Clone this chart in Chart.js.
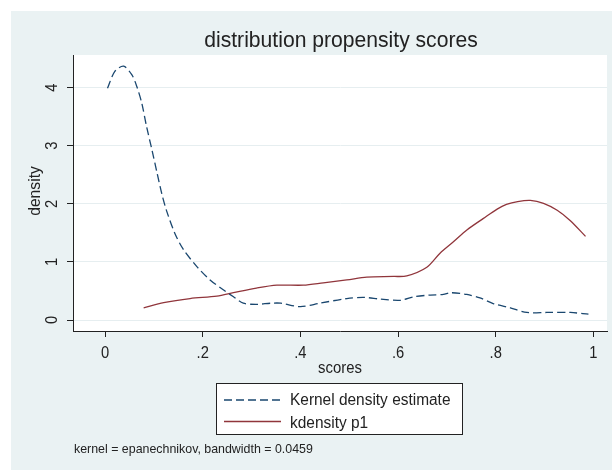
<!DOCTYPE html>
<html>
<head>
<meta charset="utf-8">
<script src="https://cdn.jsdelivr.net/npm/chart.js@4"></script>
<style>
  html, body { margin: 0; padding: 0; background: #ffffff; }
  #wrap { width: 612px; height: 470px; }
</style>
</head>
<body>
<div id="wrap"><canvas id="kdChart" width="612" height="470"></canvas></div>
<script>
const TITLE = "distribution propensity scores";
const X_TITLE = "scores";
const Y_TITLE = "density";
const NOTE = "kernel = epanechnikov, bandwidth = 0.0459";

// series 1: Kernel density estimate (dashed)
const kdeX = [0.005, 0.02, 0.038, 0.055, 0.065, 0.075, 0.085, 0.096, 0.106, 0.116, 0.126, 0.143, 0.16, 0.188,
              0.215, 0.242, 0.263, 0.283, 0.31, 0.34, 0.36, 0.40, 0.44, 0.495, 0.53, 0.564, 0.605, 0.632,
              0.666, 0.693, 0.707, 0.741, 0.768, 0.796, 0.83, 0.864, 0.905, 0.953, 0.99];
const kdeY = [3.99, 4.28, 4.37, 4.22, 4.02, 3.74, 3.33, 2.93, 2.55, 2.18, 1.88, 1.49, 1.22, 0.92,
              0.69, 0.52, 0.40, 0.29, 0.27, 0.29, 0.29, 0.23, 0.29, 0.37, 0.39, 0.36, 0.34, 0.40,
              0.43, 0.44, 0.47, 0.44, 0.38, 0.28, 0.21, 0.13, 0.13, 0.13, 0.10];

// series 2: kdensity p1
const p1X = [0.079, 0.12, 0.174, 0.229, 0.263, 0.31, 0.352, 0.406, 0.447, 0.495, 0.536, 0.591, 0.618,
             0.659, 0.686, 0.714, 0.741, 0.775, 0.803, 0.822, 0.845, 0.871, 0.898, 0.926, 0.953, 0.984];
const p1Y = [0.21, 0.30, 0.37, 0.41, 0.47, 0.55, 0.60, 0.60, 0.64, 0.69, 0.74, 0.75, 0.76,
             0.91, 1.15, 1.35, 1.55, 1.75, 1.91, 1.99, 2.04, 2.06, 2.01, 1.89, 1.71, 1.44];

const X_MIN = -0.0657, X_MAX = 1.028;
const Y_MIN = -0.189, Y_MAX = 4.563;

const BG = '#eaf2f3';
const INK = '#222222';
const FONT = '"Liberation Sans", Arial, sans-serif';

function pts(xs, ys) {
    return xs.map((x, i) => ({ x: x, y: ys[i] }));
}

function stataNum(v) {
    if (v === 0) return '0';
    if (v === 1) return '1';
    return String(+v.toFixed(2)).replace(/^0\./, '.');
}

function txt(c, s, x, y, size, align, sx, rot) {
    c.save();
    c.translate(x, y);
    if (rot) c.rotate(rot);
    c.scale(sx, 1);
    c.font = size + 'px ' + FONT;
    c.fillStyle = INK;
    c.textAlign = align;
    c.textBaseline = 'alphabetic';
    c.fillText(s, 0, 0);
    c.restore();
}

const backdrop = {
    id: 'backdrop',
    beforeDraw(chart) {
        const c = chart.ctx, a = chart.chartArea;
        c.save();
        c.fillStyle = '#ffffff';
        c.fillRect(0, 0, chart.width, chart.height);
        c.fillStyle = BG;
        c.fillRect(11, 11, chart.width - 11, chart.height - 11);
        c.fillStyle = '#ffffff';
        c.fillRect(a.left, a.top, a.right - a.left, a.bottom - a.top);
        c.restore();
    }
};

const stataText = {
    id: 'stataText',
    afterDraw(chart) {
        const c = chart.ctx;
        const xs = chart.scales.x, ys = chart.scales.y;

        txt(c, TITLE, 341, 47, 22, 'center', 0.96);

        xs.ticks.forEach(t => txt(c, stataNum(t.value), xs.getPixelForValue(t.value), 358, 16, 'center', 0.92));
        ys.ticks.forEach(t => txt(c, stataNum(t.value), 57, ys.getPixelForValue(t.value), 16, 'center', 0.92, -Math.PI / 2));

        txt(c, X_TITLE, 340, 373, 16, 'center', 0.93);
        txt(c, Y_TITLE, 39.5, 191, 16, 'center', 0.98, -Math.PI / 2);

        // legend box
        c.save();
        c.fillStyle = '#ffffff';
        c.fillRect(217, 384, 246, 51);
        c.strokeStyle = INK;
        c.lineWidth = 1;
        c.strokeRect(216.5, 383.5, 246, 51);
        const rows = [400, 421.5];
        chart.data.datasets.forEach((ds, i) => {
            c.beginPath();
            c.strokeStyle = ds.borderColor;
            c.lineWidth = ds.borderWidth;
            c.setLineDash(ds.borderDash || []);
            c.moveTo(224, rows[i]);
            c.lineTo(281, rows[i]);
            c.stroke();
        });
        c.restore();
        txt(c, chart.data.datasets[0].label, 290, 405, 16, 'left', 0.965);
        txt(c, chart.data.datasets[1].label, 290, 428, 16, 'left', 0.965);

        txt(c, NOTE, 74, 453, 12.4, 'left', 1);
    }
};

const ctx = document.getElementById('kdChart').getContext('2d');
const kdChart = new Chart(ctx, {
    type: 'line',
    data: {
        datasets: [{
            label: 'Kernel density estimate',
            data: pts(kdeX, kdeY),
            borderColor: '#1a476f',
            borderWidth: 1.3,
            borderDash: [8, 4],
            pointRadius: 0,
            tension: 0.3,
            fill: false
        }, {
            label: 'kdensity p1',
            data: pts(p1X, p1Y),
            borderColor: '#90353b',
            borderWidth: 1.3,
            pointRadius: 0,
            tension: 0.3,
            fill: false
        }]
    },
    options: {
        responsive: false,
        animation: false,
        layout: { padding: { left: 67, top: 55, right: 5, bottom: 133 } },
        scales: {
            x: {
                type: 'linear',
                min: X_MIN,
                max: X_MAX,
                ticks: { display: false, stepSize: 0.2, includeBounds: false },
                grid: { color: 'rgba(0,0,0,0)', tickColor: INK, tickLength: 6, drawTicks: true },
                border: { color: INK, width: 1 }
            },
            y: {
                type: 'linear',
                min: Y_MIN,
                max: Y_MAX,
                ticks: { display: false, stepSize: 1, includeBounds: false },
                grid: { color: '#e6eef0', lineWidth: 1, tickColor: INK, tickLength: 6, drawTicks: true },
                border: { color: INK, width: 1 }
            }
        },
        plugins: {
            legend: { display: false },
            title: { display: false },
            tooltip: { enabled: false }
        }
    },
    plugins: [backdrop, stataText]
});
</script>
</body>
</html>
